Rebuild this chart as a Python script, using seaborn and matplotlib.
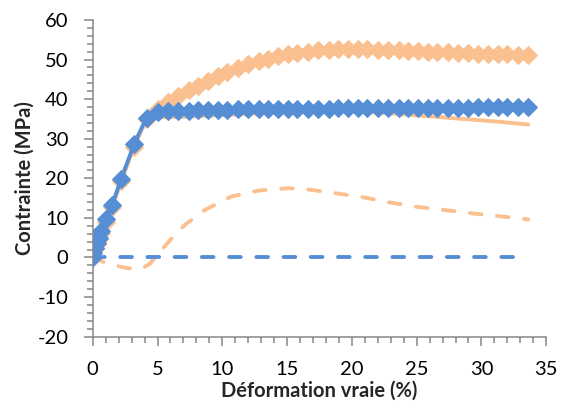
import matplotlib
matplotlib.use("Agg")
import matplotlib.pyplot as plt
from matplotlib.ticker import MultipleLocator
import seaborn as sns

# strain (%) for the diamond series
strain = [0, 0.05, 0.15, 0.3, 0.45, 0.65, 1.0, 1.5, 2.2, 3.2, 4.15,
          5.05, 5.8, 6.6, 7.4, 8.1, 8.9, 9.7, 10.4, 11.2, 12.0,
          12.8, 13.5, 14.3, 15.1, 15.8, 16.6, 17.4, 18.2, 18.9, 19.7,
          20.5, 21.2, 22.0, 22.8, 23.6, 24.3, 25.1, 25.9, 26.6, 27.4,
          28.2, 29.0, 29.7, 30.5, 31.3, 32.0, 32.8, 33.6]
stress_blue = [0, 1.0, 2.5, 3.6, 5.0, 6.8, 9.6, 13.3, 19.9, 28.7, 35.3,
               36.7, 36.9, 37.0, 37.1, 37.2, 37.2, 37.3, 37.3, 37.4, 37.4,
               37.4, 37.5, 37.5, 37.5, 37.6, 37.6, 37.6, 37.6, 37.7, 37.7,
               37.7, 37.7, 37.7, 37.7, 37.8, 37.8, 37.8, 37.8, 37.8, 37.8,
               37.8, 37.8, 37.9, 37.9, 37.9, 37.9, 37.9, 37.9]
stress_orange = [0, 0.8, 2.2, 3.3, 4.6, 6.3, 9.0, 12.7, 19.2, 28.0, 35.0,
                 37.6, 39.2, 40.8, 42.2, 43.4, 44.7, 45.9, 46.9, 47.9, 48.8,
                 49.6, 50.2, 50.8, 51.3, 51.7, 52.0, 52.3, 52.5, 52.6, 52.6,
                 52.6, 52.6, 52.5, 52.4, 52.3, 52.2, 52.1, 52.0, 51.9, 51.8,
                 51.7, 51.6, 51.5, 51.4, 51.3, 51.3, 51.2, 51.1]

# orange solid line (no markers)
line_x = [0, 0.15, 0.45, 1.0, 1.5, 2.2, 3.2, 4.15, 5.05, 6.6, 8.1, 10.4,
          12.8, 15.1, 17.4, 19.7, 22.0, 24.3, 26.6, 29.0, 31.3, 33.6]
line_y = [0, 2.3, 4.8, 9.3, 13.0, 19.5, 28.3, 34.8, 35.4, 35.5, 35.7, 36.0,
          36.4, 36.7, 36.8, 36.8, 36.6, 36.1, 35.5, 34.9, 34.3, 33.6]

# orange dashed curve
dash_x = [0, 0.5, 1.2, 2.35, 3.2, 3.8, 4.4, 5.0, 5.6, 6.3, 7.1, 8.65, 10.7,
          12.8, 15.1, 16.8, 18.8, 20.9, 22.9, 25.0, 27.1, 29.1, 31.2, 33.6]
dash_y = [0, -0.7, -1.6, -2.5, -2.9, -2.8, -1.6, 0.6, 3.0, 5.6, 8.2, 12.0,
          15.4, 16.9, 17.5, 17.1, 16.2, 15.2, 13.9, 12.8, 12.0, 11.2, 10.5,
          9.6]

# blue dashed (zero line)
zero_x = [0, 33.6]
zero_y = [0, 0]

BLUE = "#558ED5"
ORANGE = "#FAC090"

sns.set_style("white")
plt.rcParams["font.family"] = ["Lato", "DejaVu Sans"]
plt.rcParams["axes.unicode_minus"] = False

fig, ax = plt.subplots(figsize=(5.69, 4.08), dpi=100)
fig.subplots_adjust(left=0.163, right=0.96, top=0.951, bottom=0.175)

dash_kw = dict(linewidth=2.8, dashes=(3, 4), dash_capstyle="round")
sns.lineplot(x=dash_x, y=dash_y, ax=ax, color=ORANGE, sort=False, **dash_kw)
sns.lineplot(x=zero_x, y=zero_y, ax=ax, color=BLUE, sort=False, **dash_kw)
sns.lineplot(x=line_x, y=line_y, ax=ax, color=ORANGE, linewidth=2.8,
             sort=False, solid_capstyle="round")
sns.lineplot(x=strain, y=stress_orange, ax=ax, color=ORANGE, linewidth=2.8,
             marker="D", markersize=9.5, markeredgecolor=ORANGE, sort=False)
sns.lineplot(x=strain, y=stress_blue, ax=ax, color=BLUE, linewidth=2.8,
             marker="D", markersize=9.5, markeredgecolor=BLUE, sort=False)

ax.set_xlim(0, 35)
ax.set_ylim(-20, 60)
ax.xaxis.set_major_locator(MultipleLocator(5))
ax.xaxis.set_minor_locator(MultipleLocator(1))
ax.yaxis.set_major_locator(MultipleLocator(10))
ax.yaxis.set_minor_locator(MultipleLocator(2))

for side in ["top", "right"]:
    ax.spines[side].set_visible(False)
for side in ["left", "bottom"]:
    ax.spines[side].set_color("#868686")
    ax.spines[side].set_linewidth(1.1)

ax.tick_params(which="both", direction="out", color="#868686", width=1.1,
               labelsize=14.5, labelcolor="black", pad=11)
ax.tick_params(which="major", length=6.5)
ax.tick_params(which="minor", length=4.5)
ax.tick_params(axis="x", which="both", bottom=True)
ax.tick_params(axis="y", which="both", left=True)

ax.set_xlabel("Déformation vraie (%)", fontsize=14.5, fontweight="bold",
              labelpad=2)
ax.set_ylabel("Contrainte (MPa)", fontsize=14.5, fontweight="bold",
              labelpad=2)

fig.savefig("out.png", dpi=100)
